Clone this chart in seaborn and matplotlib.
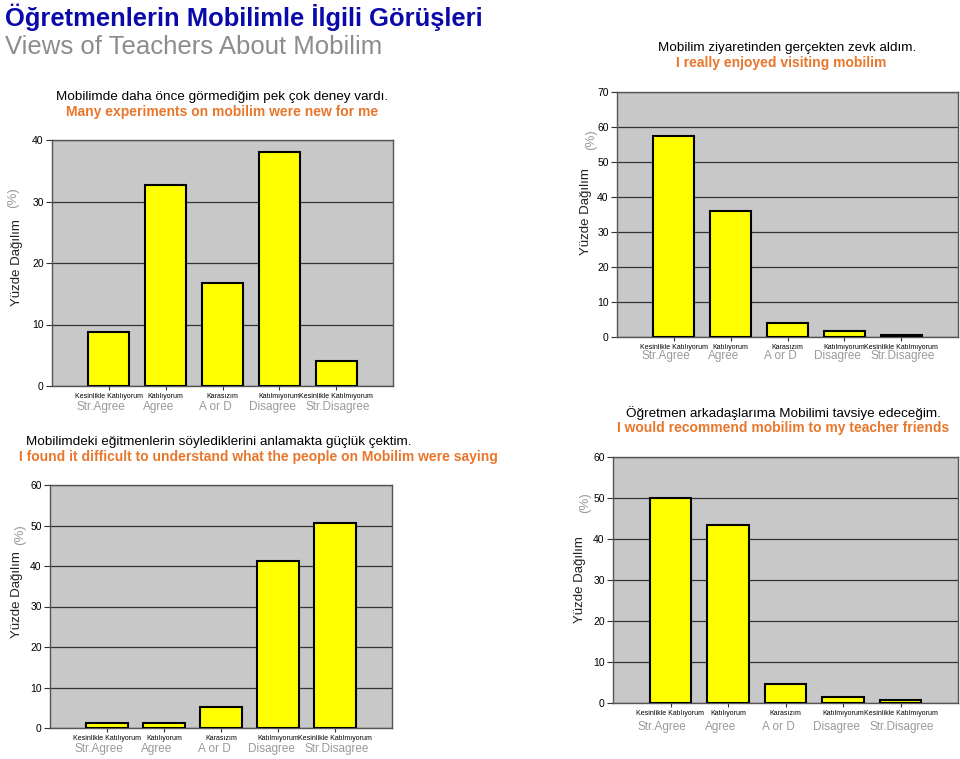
import matplotlib
matplotlib.use("Agg")
import matplotlib.pyplot as plt
import seaborn as sns
import pandas as pd

# Answer categories (Turkish tick labels + English translations)
tr_labels = ["Kesinlikle Katılıyorum", "Katılıyorum", "Karasızım",
             "Katılmıyorum", "Kesinlikle Katılmıyorum"]
en_labels = ["Str.Agree", "Agree", "A or D", "Disagree", "Str.Disagree"]

# Percentages
new_experiments = [8.8, 32.7, 16.7, 38.0, 4.1]
enjoyed_visit = [57.4, 36.0, 4.0, 1.7, 0.6]
hard_to_understand = [1.3, 1.3, 5.2, 41.2, 50.6]
recommend = [50.0, 43.4, 4.6, 1.5, 0.7]

W, H = 960, 759
FONT = ["Liberation Sans", "DejaVu Sans"]
ORANGE = "#E8762B"
GREY_TXT = "#9A9A9A"

plt.rcParams["font.family"] = FONT
fig = plt.figure(figsize=(W / 100, H / 100), dpi=100)


def px(x, y):
    return x / W, 1 - y / H


def panel(box, values, ymax, tr_title, en_title, title_xy, en_x, ylab_xy, pct_xy, en_dy=-14):
    left, top, right, bottom = box
    ax = fig.add_axes([left / W, 1 - bottom / H, (right - left) / W, (bottom - top) / H])
    df = pd.DataFrame({"cevap": tr_labels, "yuzde": values})
    sns.barplot(data=df, x="cevap", y="yuzde", ax=ax, color="#FFFF00",
                saturation=1, edgecolor="black", linewidth=1.5, width=0.72, zorder=3)
    ax.set_facecolor("#C8C8C8")
    ax.set_xlim(-1, 5)
    ax.set_ylim(0, ymax)
    ax.set_yticks(range(0, ymax + 1, 10))
    ax.yaxis.grid(True, color="#333333", linewidth=0.9, zorder=0)
    ax.set_axisbelow(True)
    for s in ax.spines.values():
        s.set_color("#555555")
        s.set_linewidth(1)
    ax.tick_params(axis="y", labelsize=7.5, length=4, width=0.8, color="#333333", pad=2)
    ax.tick_params(axis="x", labelsize=5, length=3, width=0.8, color="#333333", pad=2)
    ax.set_xlabel("")
    ax.set_ylabel("")
    # English translation under each Turkish label
    shifts = [-6, -5, -5, -5, 1]
    for i, lab in enumerate(en_labels):
        ax.annotate(lab, xy=(i, 0), xycoords=("data", "axes fraction"),
                    xytext=(shifts[i], en_dy), textcoords="offset points",
                    ha="center", va="center", fontsize=8.5, color=GREY_TXT)
    # titles
    tx, ty = title_xy
    fig.text(*px(tx, ty), tr_title, ha="center", va="center", fontsize=9.7, color="black")
    fig.text(*px(en_x, ty + 15), en_title, ha="center", va="center", fontsize=10,
             color=ORANGE, fontweight="bold")
    fig.text(*px(*ylab_xy), "Yüzde Dağılım", rotation=90, ha="center", va="center",
             fontsize=9.5, color="#222222")
    fig.text(*px(*pct_xy), "(%)", rotation=90, ha="center", va="center",
             fontsize=9.5, color=GREY_TXT)
    return ax


# Main titles
fig.text(*px(5, 17), "Öğretmenlerin Mobilimle İlgili Görüşleri", ha="left", va="center",
         fontsize=18.4, fontweight="bold", color="#0A0AAA")
fig.text(*px(5, 47), "Views of Teachers About Mobilim", ha="left", va="center",
         fontsize=18.5, color="#8C8C8C")

# 1. Many experiments were new
panel((52, 140, 393, 386), new_experiments, 40,
      "Mobilimde daha önce görmediğim pek çok deney vardı.",
      "Many experiments on mobilim were new for me",
      (222, 97), 222, (17, 263), (13, 198), en_dy=-15)

# 2. Enjoyed visiting
panel((617, 92, 958, 337), enjoyed_visit, 70,
      "Mobilim ziyaretinden gerçekten zevk aldım.",
      "I really enjoyed visiting mobilim",
      (787, 48), 781, (586, 212), (591, 140), en_dy=-14)

# 3. Hard to understand
panel((50, 485, 392, 728), hard_to_understand, 60,
      "Mobilimdeki eğitmenlerin söylediklerini anlamakta güçlük çektim.",
      "I found it difficult to understand what the people on Mobilim were saying",
      (219, 442), 258, (17, 595), (20, 535), en_dy=-15)

# 4. Would recommend
panel((613, 457, 958, 703), recommend, 60,
      "Öğretmen arkadaşlarıma Mobilimi tavsiye edeceğim.",
      "I would recommend mobilim to my teacher friends",
      (783, 413), 783, (580, 580), (585, 503), en_dy=-17)

fig.savefig("out.png", dpi=100)
